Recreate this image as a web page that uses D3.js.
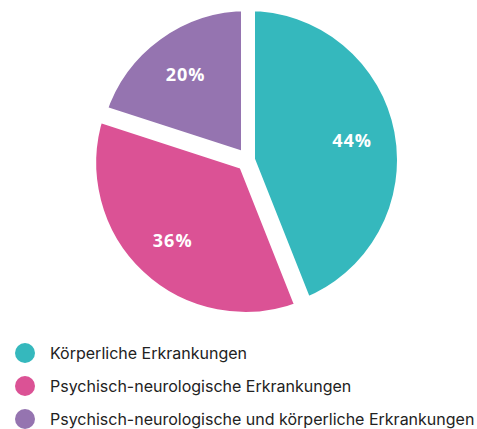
<!DOCTYPE html>
<html>
<head>
<meta charset="utf-8">
<script src="https://cdn.jsdelivr.net/npm/d3@7"></script>
<style>
  html, body { margin: 0; padding: 0; background: #fff; }
  svg { display: block; }
</style>
</head>
<body>
<div id="chart"></div>
<script>
// data
var categories = ["Körperliche Erkrankungen", "Psychisch-neurologische Erkrankungen", "Psychisch-neurologische und körperliche Erkrankungen"];
var values = [44, 36, 20];
var labels = ["44%", "36%", "20%"];
var colors = ["#35b8bd", "#db5295", "#9574b0"];
var explode = [0, 4, 0]; // pink slice sits a little further out

var width = 477, height = 429;
var cx = 248, cy = 160;
var radius = 156;

var svg = d3.select("#chart").append("svg")
    .attr("width", width)
    .attr("height", height);

var g = svg.append("g")
    .attr("transform", "translate(" + cx + "," + cy + ")");

var pie = d3.pie().sort(null).value(function(d) { return d; });
var arcs = pie(values);

var arcGen = d3.arc().innerRadius(0).outerRadius(radius);
var labelArc = d3.arc().innerRadius(106).outerRadius(106);

function shift(d, i) {
    var a = (d.startAngle + d.endAngle) / 2;
    return [Math.sin(a) * explode[i], -Math.cos(a) * explode[i]];
}

var slice = g.selectAll("g.slice")
    .data(arcs)
    .enter().append("g")
    .attr("class", "slice")
    .attr("transform", function(d, i) { return "translate(" + shift(d, i) + ")"; });

slice.append("path")
    .attr("d", arcGen)
    .attr("fill", function(d, i) { return colors[i]; })
    .attr("stroke", "#fff")
    .attr("stroke-width", 14)
    .attr("stroke-linejoin", "miter");

slice.append("text")
    .attr("transform", function(d) { return "translate(" + labelArc.centroid(d) + ")"; })
    .attr("text-anchor", "middle")
    .attr("dy", "0.36em")
    .attr("fill", "#fff")
    .style("font-family", "'Open Sans', sans-serif")
    .style("font-weight", 700)
    .style("font-size", "18px")
    .style("letter-spacing", "1px")
    .text(function(d, i) { return labels[i]; });

// legend
var legend = svg.append("g");
var legendY = d3.scalePoint().domain(categories).range([353, 419]);

var item = legend.selectAll("g.item")
    .data(categories)
    .enter().append("g")
    .attr("class", "item")
    .attr("transform", function(d) { return "translate(0," + legendY(d) + ")"; });

item.append("circle")
    .attr("cx", 25)
    .attr("r", 10)
    .attr("fill", function(d, i) { return colors[i]; });

item.append("text")
    .attr("x", 50)
    .attr("dy", "0.35em")
    .attr("fill", "#222")
    .style("font-family", "Inter, sans-serif")
    .style("font-size", "16px")
    .text(function(d) { return d; });
</script>
</body>
</html>
